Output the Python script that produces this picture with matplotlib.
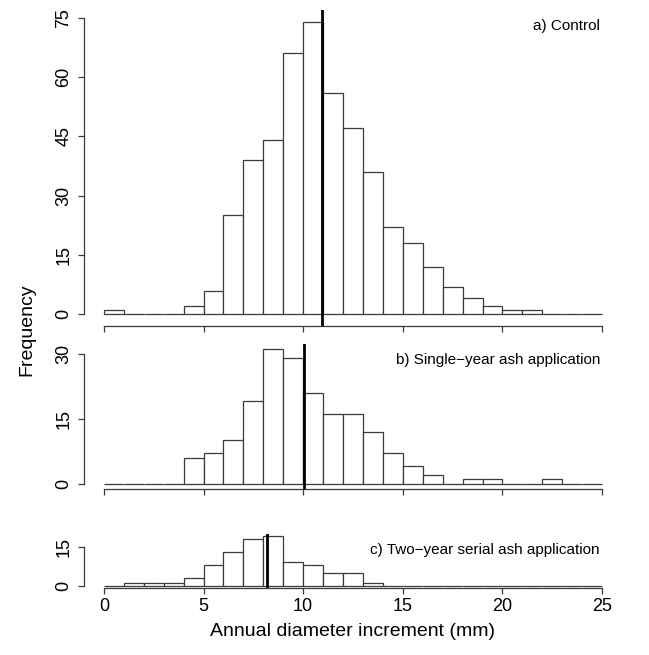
import matplotlib
matplotlib.use("Agg")
import matplotlib.pyplot as plt

plt.rcParams["font.family"] = ["Liberation Sans", "DejaVu Sans"]

# histogram bins are 1 mm wide, 0 to 25 mm
edges = list(range(0, 26))
control = [1, 0, 0, 0, 2, 6, 25, 39, 44, 66, 74, 56, 47, 36, 22, 18, 12, 7, 4, 2, 1, 1, 0, 0, 0]
single_year = [0, 0, 0, 0, 6, 7, 10, 19, 31, 29, 21, 16, 16, 12, 7, 4, 2, 0, 1, 1, 0, 0, 1, 0, 0]
two_year = [0, 1, 1, 1, 3, 8, 13, 18, 19, 9, 8, 5, 5, 1, 0, 0, 0, 0, 0, 0, 0, 0, 0, 0, 0]
means = [10.95, 10.02, 8.2]
titles = ["a) Control",
          "b) Single\u2212year ash application",
          "c) Two\u2212year serial ash application"]
yticks = [[0, 15, 30, 45, 60, 75], [0, 15, 30], [0, 15]]
xticks = [0, 5, 10, 15, 20, 25]

W, H = 649, 655
LINE = "#3a3a3a"


def box(top, bottom):
    # axes rectangle from pixel rows
    left = 84.0
    right = 622.0
    return [left / W, (H - bottom) / H, (right - left) / W, (bottom - top) / H]


def panel(ax, counts, mean, title, ticks, show_x):
    ymax = max(counts)
    ax.bar(edges[:-1], counts, width=1, align="edge", facecolor="white",
           edgecolor=LINE, linewidth=0.9)
    ax.axvline(mean, color="black", lw=2)
    ax.set_xlim(-1, 26)
    ax.set_ylim(-0.04 * ymax, 1.04 * ymax)
    ax.spines["top"].set_visible(False)
    ax.spines["right"].set_visible(False)
    ax.spines["left"].set_bounds(ticks[0], ticks[-1])
    ax.spines["bottom"].set_bounds(xticks[0], xticks[-1])
    for s in ("left", "bottom"):
        ax.spines[s].set_color(LINE)
        ax.spines[s].set_linewidth(0.9)
    ax.set_yticks(ticks)
    ax.set_yticklabels([str(t) for t in ticks], rotation=90, va="center")
    ax.set_xticks(xticks)
    ax.tick_params(direction="out", length=4.5, width=0.9, color=LINE,
                   labelsize=13, pad=3)
    ax.tick_params(axis="y", pad=4)
    if show_x:
        ax.set_xticklabels([str(t) for t in xticks])
    else:
        ax.tick_params(axis="x", labelbottom=False)
    ax.annotate(title, xy=(1, 1), xycoords="axes fraction", xytext=(-22, -16),
                textcoords="offset pixels", ha="right", va="center", fontsize=11)


fig = plt.figure(figsize=(W / 100, H / 100), dpi=100)
ax1 = fig.add_axes(box(10, 326))
ax2 = fig.add_axes(box(344, 489))
ax3 = fig.add_axes(box(534, 588))

panel(ax1, control, means[0], titles[0], yticks[0], False)
panel(ax2, single_year, means[1], titles[1], yticks[1], False)
panel(ax3, two_year, means[2], titles[2], yticks[2], True)

fig.text(27 / W, 1 - 330 / H, "Frequency", rotation=90, ha="center", va="center", fontsize=14)
fig.text(353 / W, 1 - 632 / H, "Annual diameter increment (mm)", ha="center", va="center", fontsize=14)

fig.savefig("out.png", dpi=100)
